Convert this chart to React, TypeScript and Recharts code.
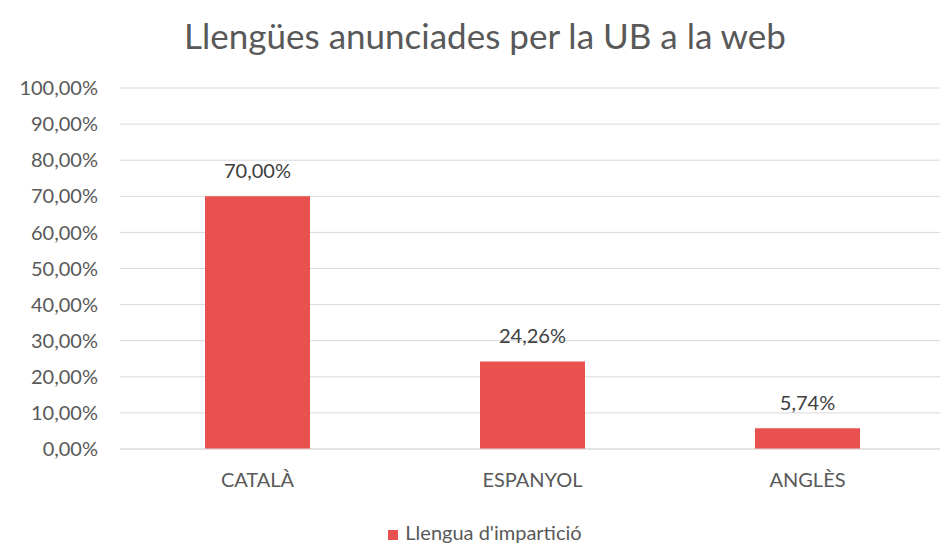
import { BarChart, Bar, XAxis, YAxis, CartesianGrid, Legend, LabelList } from "recharts";

const languages = ["CATALÀ", "ESPANYOL", "ANGLÈS"];
const shares = [70.0, 24.26, 5.74];
const yTicks = [0, 10, 20, 30, 40, 50, 60, 70, 80, 90, 100];

const seriesName = "Llengua d'impartició";
const chartTitle = "Llengües anunciades per la UB a la web";

const fmt = (v: number) => v.toFixed(2).replace(".", ",") + "%";

export default function App() {
  const data = languages.map((name, i) => ({ name, value: shares[i] }));

  return (
    <div style={{ position: "absolute", left: 0, top: 0, width: 940, height: 546, overflow: "hidden", background: "#fff", fontFamily: "Lato, sans-serif" }}>
      <div style={{ position: "absolute", left: 0, top: 14, width: 970, textAlign: "center", fontSize: 35, color: "#595959" }}>
        {chartTitle}
      </div>
      <BarChart
        width={950}
        height={546}
        data={data}
        margin={{ top: 88, right: 5, left: 0, bottom: 0 }}
      >
        <CartesianGrid vertical={false} stroke="#d9d9d9" />
        <YAxis
          domain={[0, 100]}
          ticks={yTicks}
          interval={0}
          width={120}
          axisLine={false}
          tickLine={false}
          tickMargin={16}
          tickFormatter={fmt}
          tick={{ fill: "#595959", fontSize: 20 }}
        />
        <XAxis
          dataKey="name"
          height={58}
          stroke="#d9d9d9"
          tickLine={false}
          tickMargin={18}
          tick={{ fill: "#595959", fontSize: 20 }}
        />
        <Legend
          verticalAlign="bottom"
          height={39}
          content={() => (
            <div style={{ width: 970, textAlign: "center", fontSize: 20, color: "#595959", marginTop: 13 }}>
              <span style={{ display: "inline-block", width: 10, height: 10, background: "#e9514e", marginRight: 7 }} />
              {seriesName}
            </div>
          )}
        />
        <Bar dataKey="value" name={seriesName} fill="#e9514e" barSize={105} isAnimationActive={false}>
          <LabelList dataKey="value" position="top" offset={18} formatter={(v: any) => fmt(Number(v))} fill="#404040" fontSize={20} />
        </Bar>
      </BarChart>
    </div>
  );
}
